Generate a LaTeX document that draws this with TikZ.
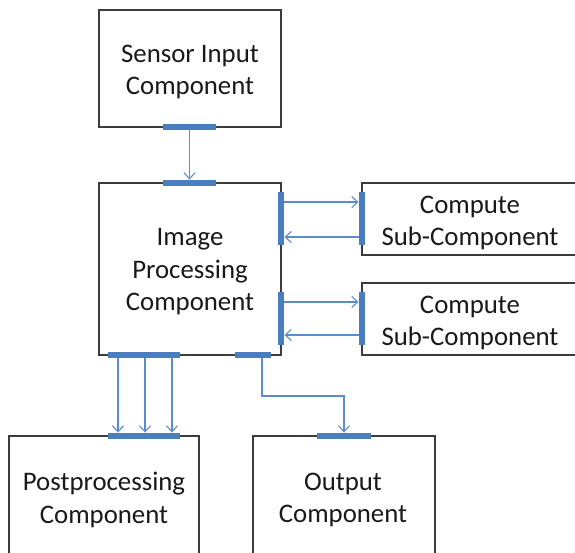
\documentclass[tikz,border=0pt]{standalone}
\usepackage{fontspec}
\setmainfont{Carlito}
\usetikzlibrary{arrows.meta}
\definecolor{portblue}{HTML}{4A7EBF}
\definecolor{lineblue}{HTML}{5B8CD0}
\definecolor{boxgray}{HTML}{3C3C3C}
\tikzset{
  box/.style={draw=boxgray, line width=1.2pt, rectangle, inner sep=0pt, fill=white},
  lbl/.style={align=center, font=\fontsize{26.8}{32.5}\selectfont, text=black!90},
  hport/.style={fill=portblue, draw=none, rectangle, inner sep=0pt, minimum height=6.5pt},
  vport/.style={fill=portblue, draw=none, rectangle, inner sep=0pt, minimum width=6.5pt, minimum height=53pt},
  conn/.style={draw=lineblue, line width=1.2pt, -{Straight Barb[length=6pt,width=11pt,line width=1.1pt]}},
}
\begin{document}
\begin{tikzpicture}[x=1pt,y=-1pt]
\useasboundingbox (0,0) rectangle (575,552);
\clip (0,0) rectangle (575,552);
\fill[white] (0,0) rectangle (575,552);
% boxes
\node[box, minimum width=182pt, minimum height=117pt] (sensor) at (190,68.5) {};
\node[box, minimum width=182pt, minimum height=172pt] (img) at (190,269) {};
\node[box, minimum width=240pt, minimum height=72pt] (comp1) at (482,219) {};
\node[box, minimum width=240pt, minimum height=72pt] (comp2) at (482,319) {};
\node[box, minimum width=190pt, minimum height=170pt] (post) at (104,521) {};
\node[box, minimum width=182pt, minimum height=170pt] (out) at (344,521) {};
% labels
\node[lbl] (sensorT) at (190,72) {Sensor Input\\Component};
\node[lbl] (imgT) at (190,272) {Image\\Processing\\Component};
\node[lbl] (comp1T) at (470,223) {Compute\\Sub-Component};
\node[lbl] (comp2T) at (470,323) {Compute\\Sub-Component};
\node[lbl] (postT) at (104,500) {Postprocessing\\Component};
\node[lbl] (outT) at (343,500) {Output\\Component};
% ports
\node[hport, minimum width=53pt] (sp) at (189.5,127) {};
\node[hport, minimum width=53pt] (ip) at (189.5,183) {};
\node[vport] (ir1) at (281,218.5) {};
\node[vport] (ir2) at (281,318.5) {};
\node[vport] (c1p) at (362,218.5) {};
\node[vport] (c2p) at (362,318.5) {};
\node[hport, minimum width=72pt] (ib1) at (144,355) {};
\node[hport, minimum width=36pt] (ib2) at (253,355) {};
\node[hport, minimum width=72pt] (pp) at (144,436) {};
\node[hport, minimum width=54pt] (op) at (344,436) {};
\coordinate (bend) at (0,396);
% connectors
\draw[conn] (sp.south) -- (ip.north);
\draw[conn] ([yshift=16.5pt]ir1.east) -- ([yshift=16.5pt]c1p.west);
\draw[conn] ([yshift=-18.5pt]c1p.west) -- ([yshift=-18.5pt]ir1.east);
\draw[conn] ([yshift=16.5pt]ir2.east) -- ([yshift=16.5pt]c2p.west);
\draw[conn] ([yshift=-16.5pt]c2p.west) -- ([yshift=-16.5pt]ir2.east);
\draw[conn] ([xshift=-26pt]ib1.south) -- ([xshift=-26pt]pp.north);
\draw[conn] ([xshift=1pt]ib1.south) -- ([xshift=1pt]pp.north);
\draw[conn] ([xshift=28pt]ib1.south) -- ([xshift=28pt]pp.north);
\draw[conn] ([xshift=9pt]ib2.south) |- (op.north |- bend) -- (op.north);
\end{tikzpicture}
\end{document}
